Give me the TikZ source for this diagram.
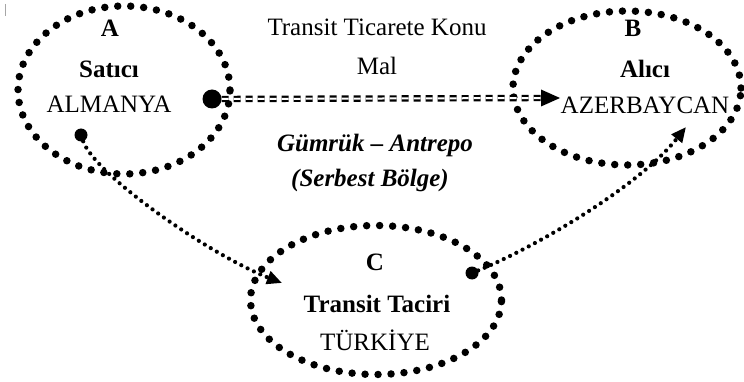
\documentclass[tikz,border=0pt]{standalone}
\usepackage{fontspec}
\setmainfont{Liberation Serif}
\usetikzlibrary{shapes.geometric,arrows.meta}
\begin{document}
\begin{tikzpicture}[x=1pt,y=-1pt,
  txt/.style={font=\fontsize{25}{29}\selectfont, inner sep=0pt, anchor=base},
  btxt/.style={txt, font=\fontsize{25}{29}\selectfont\bfseries},
  party/.style={ellipse, draw, inner sep=0pt, line width=7.5pt, line cap=round,
    dash pattern=on 0pt off 13pt},
  bigdot/.style={circle, fill, inner sep=0pt, minimum size=19pt},
  smalldot/.style={circle, fill, inner sep=0pt, minimum size=13pt},
  goodsline/.style={double, double distance=2pt, line width=2.2pt, dash pattern=on 7pt off 5pt},
  tradeline/.style={line width=4.2pt, line cap=round, dash pattern=on 0pt off 7pt,
    -{Triangle[length=15pt,width=13pt]}}]
\useasboundingbox (0,0) rectangle (744,382);

% text cursor mark in the corner
\draw[gray!70, line width=0.8pt] (5,4) -- (5,16);

% the three parties
\node[party, minimum width=212pt, minimum height=168pt] (A) at (124,90) {};
\node[party, minimum width=228pt, minimum height=154pt] (B) at (627,88) {};
\node[party, minimum width=251pt, minimum height=149pt] (C) at (376,300) {};

% labels of seller A
\node[btxt] (Alet) at (110,37) {A};
\node[btxt] (Asat) at (109,78) {Satıcı};
\node[txt]  (Aname) at (109,113) {ALMANYA};

% labels of buyer B
\node[btxt] (Blet) at (633,37) {B};
\node[btxt] (Bbuy) at (645,78) {Alıcı};
\node[txt]  (Bname) at (645,114) {AZERBAYCAN};

% labels of transit trader C
\node[btxt] (Clet) at (375,270) {C};
\node[btxt] (Ctrd) at (377,312) {Transit Taciri};
\node[txt]  (Cname) at (375,350) {TÜRKİYE};

% middle texts
\node[txt] (goods1) at (377,36) {Transit Ticarete Konu};
\node[txt] (goods2) at (377,75) {Mal};
\node[txt, font=\fontsize{25}{29}\selectfont\bfseries\itshape] (cust1) at (375,152) {Gümrük – Antrepo};
\node[txt, font=\fontsize{25}{29}\selectfont\bfseries\itshape] (cust2) at (370,187) {(Serbest Bölge)};

% goods flow A -> B
\node[bigdot] (dA) at (212,99) {};
\coordinate (tipB) at (560,98);
\draw[goodsline] (dA.east) -- ([xshift=-16pt]tipB);
\fill ([xshift=-19pt,yshift=8.5pt]tipB) -- (tipB) -- ([xshift=-19pt,yshift=-8.5pt]tipB) -- cycle;

% trade flow A -> C -> B
\node[smalldot] (dA2) at (81,135) {};
\coordinate (tipC) at (282,283);
\draw[tradeline] (dA2) .. controls (95,175) and (210,255) .. (tipC);

\node[smalldot] (dC) at (472,273) {};
\coordinate (tipB2) at (686,127);
\draw[tradeline] (dC) .. controls (540,245) and (640,185) .. (tipB2);
\end{tikzpicture}
\end{document}
